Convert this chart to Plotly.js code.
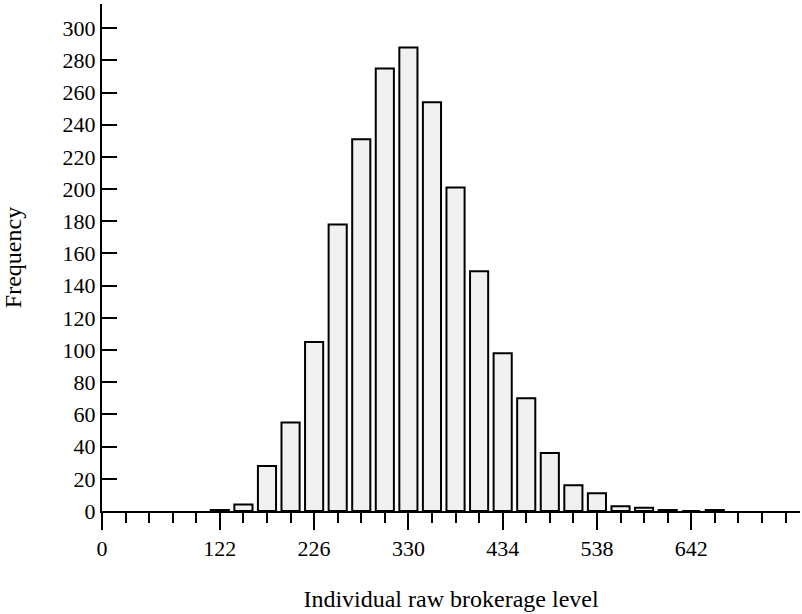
<!DOCTYPE html>
<html>
<head>
<meta charset="utf-8">
<script src="https://cdn.plot.ly/plotly-3.0.1.min.js"></script>
<style>html,body{margin:0;padding:0;background:#fff;}#chart{width:802px;height:614px;}</style>
</head>
<body>
<div id="chart"></div>
<script>
// Bin centres (raw brokerage level) and frequencies
const binCenters = [122, 148, 174, 200, 226, 252, 278, 304, 330, 356, 382, 408, 434, 460, 486, 512, 538, 564, 590, 616, 642, 668];
const frequencies = [0.6, 4, 28, 55, 105, 178, 231, 275, 288, 254, 201, 149, 98, 70, 36, 16, 11, 3, 2, 0.6, 0, 0.6];

// Tick positions and labels (first tick marks the axis origin, labelled 0)
const xTickVals = [-8, 122, 226, 330, 434, 538, 642];
const xTickText = ["0", "122", "226", "330", "434", "538", "642"];
const yTickVals = [0, 20, 40, 60, 80, 100, 120, 140, 160, 180, 200, 220, 240, 260, 280, 300];

const serif = "Liberation Serif, Times New Roman, serif";

const trace = {
  type: "bar",
  x: binCenters,
  y: frequencies,
  width: 20,
  marker: { color: "#f1f1f1", line: { color: "#000", width: 2 } },
  hoverinfo: "x+y"
};

const layout = {
  width: 802,
  height: 614,
  margin: { l: 102, r: 2, t: 4, b: 103 },
  paper_bgcolor: "#fff",
  plot_bgcolor: "#fff",
  showlegend: false,
  font: { family: serif, color: "#000", size: 22 },
  xaxis: {
    range: [-8, 762],
    tickvals: xTickVals,
    ticktext: xTickText,
    ticks: "outside",
    ticklen: 17,
    tickwidth: 2,
    tickcolor: "#000",
    showline: true,
    linecolor: "#000",
    linewidth: 2,
    showgrid: false,
    zeroline: false,
    tickfont: { family: serif, size: 22, color: "#000" },
    minor: { tick0: -8, dtick: 26, ticks: "outside", ticklen: 10, tickwidth: 2, tickcolor: "#000", showgrid: false },
    title: { text: "Individual raw brokerage level", font: { family: serif, size: 24, color: "#000" }, standoff: 30 }
  },
  yaxis: {
    range: [0, 315],
    tickvals: yTickVals,
    ticks: "inside",
    ticklen: 15,
    tickwidth: 2,
    tickcolor: "#000",
    showline: true,
    linecolor: "#000",
    linewidth: 2,
    showgrid: false,
    zeroline: false,
    tickfont: { family: serif, size: 22, color: "#000" },
    title: { text: "Frequency", font: { family: serif, size: 24, color: "#000" }, standoff: 35 }
  }
};

Plotly.newPlot("chart", [trace], layout, { displayModeBar: false, staticPlot: true });
</script>
</body>
</html>
